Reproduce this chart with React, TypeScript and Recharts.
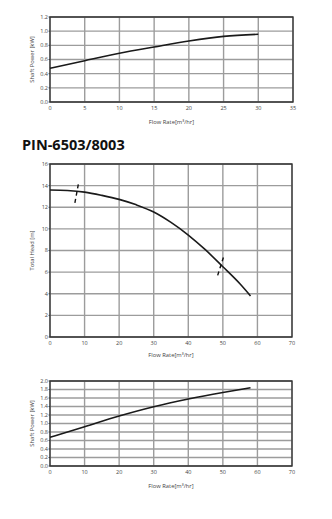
import React from 'react';
import { LineChart, Line, XAxis, YAxis, CartesianGrid, ReferenceArea, ReferenceLine } from 'recharts';

// Chart 1 (top): shaft power vs flow rate
const power1Flow = [0, 5, 10, 15, 20, 25, 30];
const power1Kw = [0.476, 0.583, 0.687, 0.776, 0.861, 0.927, 0.956];
const power1XTicks = [0, 5, 10, 15, 20, 25, 30, 35];
const power1YTicks = [0, 0.2, 0.4, 0.6, 0.8, 1.0, 1.2];

// Chart 2 (middle): total head vs flow rate
const headFlow = [0, 5, 10, 15, 20, 25, 30, 35, 40, 45, 50, 55, 58];
const headM = [13.6, 13.55, 13.4, 13.1, 12.73, 12.22, 11.56, 10.6, 9.43, 8.05, 6.5, 4.9, 3.8];
const headXTicks = [0, 10, 20, 30, 40, 50, 60, 70];
const headYTicks = [0, 2, 4, 6, 8, 10, 12, 14, 16];
const markerA = [{ x: 7.2, y: 12.4 }, { x: 8.3, y: 14.3 }];
const markerB = [{ x: 48.5, y: 5.7 }, { x: 50.4, y: 7.6 }];

// Chart 3 (bottom): shaft power vs flow rate
const power2Flow = [0, 10, 20, 30, 40, 50, 58];
const power2Kw = [0.675, 0.925, 1.176, 1.395, 1.576, 1.73, 1.84];
const power2XTicks = [0, 10, 20, 30, 40, 50, 60, 70];
const power2YTicks = [0, 0.2, 0.4, 0.6, 0.8, 1.0, 1.2, 1.4, 1.6, 1.8, 2.0];

const title = 'PIN-6503/8003';
const xLabelText = 'Flow Rate[m³/hr]';

const FONT = '"Open Sans", "Noto Sans", sans-serif';
const TEXT = '#444';

type Pt = { x: number; y: number };

interface PCProps {
  top: number;
  height: number;
  plotTop: number;
  plotBottom: number;
  plotRight: number;
  xs: number[];
  ys: number[];
  xTicks: number[];
  yTicks: number[];
  yDecimals: number;
  yLabel: string;
  xLabelOffset: number;
  markers?: Pt[][];
}

function PumpChart(p: PCProps) {
  const data = p.xs.map((x, i) => ({ x, y: p.ys[i] }));
  const xMax = p.xTicks[p.xTicks.length - 1];
  const yMax = p.yTicks[p.yTicks.length - 1];
  const width = 332;
  const xAxisH = p.height - p.plotBottom;
  return (
    <div style={{ position: 'absolute', left: 0, top: p.top }}>
      <LineChart
        width={width}
        height={p.height}
        data={data}
        margin={{ top: p.plotTop, right: width - p.plotRight, bottom: 0, left: 0 }}
      >
        <CartesianGrid stroke="#9c9c9c" strokeWidth={1.4} horizontal vertical />
        <XAxis
          type="number"
          dataKey="x"
          domain={[0, xMax]}
          ticks={p.xTicks}
          height={xAxisH}
          axisLine={false}
          tickLine={false}
          tickSize={2}
          tickMargin={2}
          interval={0}
          tick={{ fontSize: 5.5, fill: TEXT, fontFamily: FONT }}
          label={{
            content: (props: any) => {
              const vb = props.viewBox;
              return (
                <text
                  x={vb.x + vb.width / 2}
                  y={vb.y + p.xLabelOffset}
                  textAnchor="middle"
                  dominantBaseline="central"
                  fontSize={5.8}
                  fill={TEXT}
                  fontFamily={FONT}
                >
                  {xLabelText}
                </text>
              );
            },
          }}
        />
        <YAxis
          type="number"
          dataKey="y"
          domain={[0, yMax]}
          ticks={p.yTicks}
          width={50}
          axisLine={false}
          tickLine={{ stroke: '#333', strokeWidth: 0.8 }}
          tickSize={1.5}
          tickMargin={0.5}
          interval={0}
          tickFormatter={(v: number) => v.toFixed(p.yDecimals)}
          tick={{ fontSize: 5.5, fill: TEXT, fontFamily: FONT }}
          label={{
            content: (props: any) => {
              const vb = props.viewBox;
              const cx = vb.x + 32;
              const cy = vb.y + vb.height / 2;
              return (
                <text
                  x={cx}
                  y={cy}
                  transform={`rotate(-90 ${cx} ${cy})`}
                  textAnchor="middle"
                  dominantBaseline="central"
                  fontSize={5.8}
                  fill={TEXT}
                  fontFamily={FONT}
                >
                  {p.yLabel}
                </text>
              );
            },
          }}
        />
        <ReferenceArea
          x1={0}
          x2={xMax}
          y1={0}
          y2={yMax}
          fill="none"
          fillOpacity={0}
          stroke="#333"
          strokeWidth={1.3}
          ifOverflow="visible"
        />
        <Line
          type="monotone"
          dataKey="y"
          stroke="#1a1a1a"
          strokeWidth={1.6}
          dot={false}
          activeDot={false}
          isAnimationActive={false}
        />
        {(p.markers || []).map((seg, i) => (
          <ReferenceLine
            key={i}
            segment={seg}
            stroke="#111"
            strokeWidth={1.4}
            strokeDasharray="4 3.4"
            ifOverflow="visible"
          />
        ))}
      </LineChart>
    </div>
  );
}

export default function App() {
  return (
    <div style={{ position: 'absolute', left: 0, top: 0, width: 332, height: 519, background: '#fff' }}>
      <PumpChart
        top={0}
        height={130}
        plotTop={17}
        plotBottom={102}
        plotRight={293}
        xs={power1Flow}
        ys={power1Kw}
        xTicks={power1XTicks}
        yTicks={power1YTicks}
        yDecimals={1}
        yLabel="Shaft Power [kW]"
        xLabelOffset={19.7}
      />
      <div
        style={{
          position: 'absolute',
          left: 22,
          top: 136.4,
          fontFamily: FONT,
          fontWeight: 700,
          fontSize: 14.5,
          lineHeight: '18px',
          color: '#111',
          whiteSpace: 'nowrap',
        }}
      >
        {title}
      </div>
      <PumpChart
        top={130}
        height={230}
        plotTop={34}
        plotBottom={207}
        plotRight={292}
        xs={headFlow}
        ys={headM}
        xTicks={headXTicks}
        yTicks={headYTicks}
        yDecimals={0}
        yLabel="Total Head [m]"
        xLabelOffset={18.3}
        markers={[markerA, markerB]}
      />
      <PumpChart
        top={360}
        height={159}
        plotTop={21}
        plotBottom={106}
        plotRight={292}
        xs={power2Flow}
        ys={power2Kw}
        xTicks={power2XTicks}
        yTicks={power2YTicks}
        yDecimals={1}
        yLabel="Shaft Power [kW]"
        xLabelOffset={20}
      />
    </div>
  );
}
